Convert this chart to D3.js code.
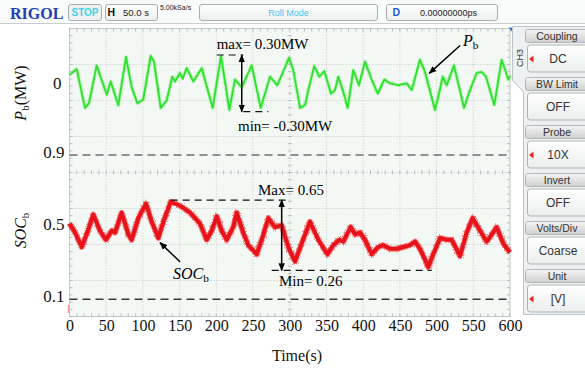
<!DOCTYPE html>
<html>
<head>
<meta charset="utf-8">
<script src="https://cdn.jsdelivr.net/npm/d3@7"></script>
<style>
  html, body { margin: 0; padding: 0; background: #ffffff; }
  svg { display: block; }
</style>
</head>
<body>
<svg id="chart" width="585" height="371"></svg>
<script>
// ---- Time axis (s) ----
const timeTicks = [0, 50, 100, 150, 200, 250, 300, 350, 400, 450, 500, 550, 600];

// ---- Battery power Pb (MW) ----
const pbTime = [0, 9.8, 21.1, 26.6, 37.0, 50.7, 56.1, 66.5, 77.0, 84.7, 92.4, 100.5, 110.6, 115.1, 124.2,
  132.4, 140.0, 143.7, 150.5, 154.2, 159.6, 168.6, 180.1, 195.1, 206.4, 217.7, 225.4, 234.6, 248.2, 260.4,
  273.1, 283.0, 299.0, 304.8, 314.0, 320.8, 325.3, 333.4, 340.3, 347.1, 356.2, 361.6, 366.1, 372.9, 378.9,
  386.6, 394.3, 402.5, 411.6, 419.8, 428.8, 436.5, 447.9, 459.3, 466.1, 477.4, 484.2, 497.8, 502.3, 508.3,
  513.8, 523.7, 537.4, 543.2, 554.6, 561.5, 567.3, 578.6, 588.7, 597.7, 600];
const pbValue = [0.09, 0.15, -0.26, -0.21, 0.19, -0.12, 0.02, -0.23, 0.28, -0.04, -0.21, -0.17, 0.29, 0.23, -0.26,
  -0.18, 0.07, 0.02, 0.11, 0.05, 0.16, 0.02, 0.16, -0.26, 0.29, -0.28, 0.04, -0.04, 0.19, -0.26,
  0.07, -0.02, 0.27, 0.14, -0.26, -0.23, -0.07, 0.18, 0.07, 0.13, -0.11, -0.07, 0.07, -0.09, -0.26,
  0.14, -0.02, 0.23, 0.04, -0.11, 0.04, 0.00, -0.02, 0.00, -0.07, 0.25, 0.12, -0.28, -0.14, 0.07,
  -0.02, 0.19, -0.26, -0.12, 0.11, 0.12, 0.07, -0.23, 0.25, 0.04, 0.08];

// ---- Battery state of charge SOCb ----
const socTime = [0, 7.5, 16.6, 24.2, 32.4, 41.5, 49.7, 57.5, 62.0, 71.1, 80.1, 84.7, 93.7, 104.2, 112.0,
  121.0, 128.7, 137.8, 150.5, 164.1, 177.8, 186.9, 193.7, 200.5, 207.3, 214.1, 223.1, 227.7, 236.7, 243.5,
  255.0, 261.8, 270.8, 279.9, 289.0, 298.0, 307.2, 316.3, 327.6, 338.9, 351.2, 359.3, 367.5, 372.9, 383.0,
  388.9, 395.7, 402.5, 411.6, 420.6, 427.4, 436.5, 445.7, 454.7, 463.8, 470.6, 477.4, 488.7, 495.5, 504.7,
  513.8, 520.6, 531.9, 541.0, 549.2, 559.2, 568.3, 581.9, 590.9, 597.7, 600];
const socValue = [0.52, 0.47, 0.39, 0.47, 0.57, 0.48, 0.43, 0.48, 0.47, 0.58, 0.46, 0.43, 0.55, 0.63, 0.53,
  0.44, 0.54, 0.64, 0.62, 0.58, 0.52, 0.43, 0.48, 0.56, 0.48, 0.43, 0.50, 0.58, 0.47, 0.40,
  0.35, 0.43, 0.55, 0.50, 0.51, 0.39, 0.31, 0.41, 0.53, 0.43, 0.35, 0.40, 0.43, 0.42, 0.50,
  0.46, 0.47, 0.43, 0.35, 0.39, 0.40, 0.38, 0.38, 0.39, 0.40, 0.42, 0.38, 0.28, 0.35, 0.44,
  0.43, 0.43, 0.34, 0.47, 0.55, 0.48, 0.42, 0.50, 0.41, 0.37, 0.36];

// ---- Axis tick values and reference levels ----
const pbTicks = [0];
const socTicks = [0.9, 0.5, 0.1];
const socLimits = [0.9, 0.1];
const pbExtremes = [0.30, -0.30];
const socExtremes = [0.65, 0.26];

// ---- Channel menu ----
const menuLabels = ["Coupling", "BW Limit", "Probe", "Invert", "Volts/Div", "Unit"];
const menuValues = ["DC", "OFF", "10X", "OFF", "Coarse", "[V]"];
const menuActive = [true, false, true, false, false, true];

const svg = d3.select("#chart");
const SERIF = "'Liberation Serif', 'Times New Roman', serif";
const SANS = "'Liberation Sans', Arial, sans-serif";

// ---- Scales ----
const x = d3.scaleLinear().domain([0, 600]).range([69.5, 510]);
const div = d3.scaleLinear().domain([0, 8]).range([316.5, 28.5]);      // screen divisions
const yP = d3.scaleLinear().domain([-0.3, 0.3]).range([111.7, 55]);    // MW
const yS = d3.scaleLinear().domain([0.1, 0.9]).range([299.3, 155]);    // SOC

// ---- defs: arrowheads, gradients, trace texture ----
const defs = svg.append("defs");
defs.append("marker").attr("id", "arrowHead")
  .attr("viewBox", "0 0 10 10").attr("refX", 9).attr("refY", 5)
  .attr("markerUnits", "userSpaceOnUse").attr("markerWidth", 8).attr("markerHeight", 8)
  .attr("orient", "auto-start-reverse")
  .append("path").attr("d", "M0,1 L10,5 L0,9 z").attr("fill", "#000");

const hdrGrad = defs.append("linearGradient").attr("id", "hdrGrad").attr("x1", 0).attr("y1", 0).attr("x2", 0).attr("y2", 1);
hdrGrad.append("stop").attr("offset", "0%").attr("stop-color", "#f4f4f4");
hdrGrad.append("stop").attr("offset", "100%").attr("stop-color", "#cfcfcf");

const boxGrad = defs.append("linearGradient").attr("id", "boxGrad").attr("x1", 0).attr("y1", 0).attr("x2", 0).attr("y2", 1);
boxGrad.append("stop").attr("offset", "0%").attr("stop-color", "#ffffff");
boxGrad.append("stop").attr("offset", "100%").attr("stop-color", "#eceeee");

function jitter(id, freq, scale) {
  const f = defs.append("filter").attr("id", id)
    .attr("x", "-2%").attr("y", "-20%").attr("width", "104%").attr("height", "140%");
  f.append("feTurbulence").attr("type", "fractalNoise").attr("baseFrequency", freq)
    .attr("numOctaves", 1).attr("seed", 7).attr("result", "n");
  f.append("feDisplacementMap").attr("in", "SourceGraphic").attr("in2", "n")
    .attr("scale", scale).attr("xChannelSelector", "R").attr("yChannelSelector", "G");
}
jitter("fuzzG", "0.9 0.9", 3);
jitter("fuzzR", "0.9 0.9", 4);

// ---- Top status bar ----
const bar = svg.append("g");
bar.append("rect").attr("x", 0).attr("y", 0).attr("width", 585).attr("height", 23).attr("fill", "#f9fafa");
bar.append("line").attr("x1", 0).attr("x2", 585).attr("y1", 23.5).attr("y2", 23.5).attr("stroke", "#c9cdd0");
bar.append("text").attr("x", 10).attr("y", 18.5).text("RIGOL")
  .attr("font-family", SERIF).attr("font-weight", "bold").attr("font-size", 16).attr("fill", "#1d3fb5");

function statusBox(x0, w, fill) {
  bar.append("rect").attr("x", x0).attr("y", 4.5).attr("width", w).attr("height", 16).attr("rx", 2.5)
    .attr("fill", fill).attr("stroke", "#a9adb0");
}
statusBox(68.5, 33, "#eef1f1");
bar.append("text").attr("x", 85).attr("y", 16.3).attr("text-anchor", "middle").text("STOP")
  .attr("font-family", SANS).attr("font-weight", "bold").attr("font-size", 10).attr("fill", "#3fd3e6");
statusBox(105.5, 52, "url(#boxGrad)");
bar.append("text").attr("x", 107.5).attr("y", 16.3).text("H")
  .attr("font-family", SANS).attr("font-weight", "bold").attr("font-size", 10.5).attr("fill", "#111");
bar.append("text").attr("x", 136).attr("y", 16.3).attr("text-anchor", "middle").text("50.0 s")
  .attr("font-family", SANS).attr("font-size", 9.5).attr("fill", "#222");
bar.append("text").attr("x", 160).attr("y", 10).text("5.00kSa/s")
  .attr("font-family", SANS).attr("font-size", 7).attr("fill", "#222");
statusBox(199.5, 178, "url(#boxGrad)");
bar.append("text").attr("x", 288.5).attr("y", 15.8).attr("text-anchor", "middle").text("Roll Mode")
  .attr("font-family", SANS).attr("font-size", 9).attr("fill", "#3fc8f2");
statusBox(386.5, 111, "url(#boxGrad)");
bar.append("text").attr("x", 392.5).attr("y", 16.3).text("D")
  .attr("font-family", SANS).attr("font-weight", "bold").attr("font-size", 10.5).attr("fill", "#1f57d6");
bar.append("text").attr("x", 448.5).attr("y", 16.3).attr("text-anchor", "middle").text("0.00000000ps")
  .attr("font-family", SANS).attr("font-size", 9).attr("fill", "#222");

// ---- Scope screen ----
const scr = svg.append("g");
scr.append("rect").attr("x", x(0)).attr("y", div(8)).attr("width", x(600) - x(0)).attr("height", div(0) - div(8))
  .attr("fill", "#f4f8f5").attr("stroke", "#c3c8c8").attr("stroke-width", 1);

const gridStyle = sel => sel.attr("stroke", "#c4c8c8").attr("stroke-width", 1).attr("stroke-dasharray", "1,2");
timeTicks.slice(1, -1).forEach(t => {
  scr.append("line").attr("x1", x(t)).attr("x2", x(t)).attr("y1", div(8)).attr("y2", div(0)).call(gridStyle);
});
d3.range(1, 8).forEach(d => {
  scr.append("line").attr("x1", x(0)).attr("x2", x(600)).attr("y1", div(d)).attr("y2", div(d)).call(gridStyle);
});

// minor ticks on the border and on the centre cross
const tickCol = "#b9bebe";
d3.range(0, 600.1, 10).forEach(t => {
  scr.append("line").attr("x1", x(t)).attr("x2", x(t)).attr("y1", div(8)).attr("y2", div(8) + 3).attr("stroke", tickCol);
  scr.append("line").attr("x1", x(t)).attr("x2", x(t)).attr("y1", div(0) - 3).attr("y2", div(0)).attr("stroke", tickCol);
  scr.append("line").attr("x1", x(t)).attr("x2", x(t)).attr("y1", div(4) - 2).attr("y2", div(4) + 2).attr("stroke", tickCol);
});
d3.range(0, 8.01, 0.2).forEach(d => {
  scr.append("line").attr("x1", x(0)).attr("x2", x(0) + 3).attr("y1", div(d)).attr("y2", div(d)).attr("stroke", tickCol);
  scr.append("line").attr("x1", x(600) - 3).attr("x2", x(600)).attr("y1", div(d)).attr("y2", div(d)).attr("stroke", tickCol);
  scr.append("line").attr("x1", x(300) - 2).attr("x2", x(300) + 2).attr("y1", div(d)).attr("y2", div(d)).attr("stroke", tickCol);
});

// channel marker and trigger marker
scr.append("line").attr("x1", x(0) - 1).attr("x2", x(0) - 1).attr("y1", 305).attr("y2", 313)
  .attr("stroke", "#f39a9a").attr("stroke-width", 1.5);
scr.append("path").attr("d", `M${x(600) - 1},${div(8) - 1} l5,0 l-2.5,4 z`).attr("fill", "#2a72d8");

// ---- SOC limit lines ----
socLimits.forEach((v, i) => {
  scr.append("line").attr("x1", x(0)).attr("x2", x(600)).attr("y1", yS(v)).attr("y2", yS(v))
    .attr("stroke", i === 0 ? "#6e6e6e" : "#3a3a3a").attr("stroke-width", 1.5).attr("stroke-dasharray", "8,5");
});

// ---- Traces ----
const pbData = d3.zip(pbTime, pbValue);
const socData = d3.zip(socTime, socValue);
const pbLine = d3.line().x(d => x(d[0])).y(d => yP(d[1]));
const socLine = d3.line().x(d => x(d[0])).y(d => yS(d[1]));

scr.append("path").datum(pbData).attr("d", pbLine).attr("fill", "none")
  .attr("stroke", "#7cf07c").attr("stroke-width", 3.6).attr("stroke-opacity", 0.55)
  .attr("stroke-linejoin", "round").attr("filter", "url(#fuzzG)");
scr.append("path").datum(pbData).attr("d", pbLine).attr("fill", "none")
  .attr("stroke", "#2fe02f").attr("stroke-width", 1.8).attr("stroke-linejoin", "round");

scr.append("path").datum(socData).attr("d", socLine).attr("fill", "none")
  .attr("stroke", "#f03030").attr("stroke-width", 6).attr("stroke-opacity", 0.6)
  .attr("stroke-linejoin", "round").attr("filter", "url(#fuzzR)");
scr.append("path").datum(socData).attr("d", socLine).attr("fill", "none")
  .attr("stroke", "#e8121a").attr("stroke-width", 4).attr("stroke-linejoin", "round");

// ---- Extreme-value annotations ----
const ann = svg.append("g");
const dashed = sel => sel.attr("stroke", "#111").attr("stroke-width", 1.2).attr("stroke-dasharray", "7,5");
function hline(t0, t1, y) {
  ann.append("line").attr("x1", x(t0)).attr("x2", x(t1)).attr("y1", y).attr("y2", y).call(dashed);
}
function vArrow(t, y0, y1) {
  ann.append("line").attr("x1", x(t)).attr("x2", x(t)).attr("y1", y0).attr("y2", y1)
    .attr("stroke", "#000").attr("stroke-width", 1.5)
    .attr("marker-start", "url(#arrowHead)").attr("marker-end", "url(#arrowHead)");
}
function label(xp, yp, parts, size) {
  const t = ann.append("text").attr("x", xp).attr("y", yp).attr("dy", "0.35em")
    .attr("font-family", SERIF).attr("font-size", size).attr("fill", "#000");
  parts.forEach(p => {
    const s = t.append("tspan").text(p.text);
    if (p.italic) s.attr("font-style", "italic");
    if (p.sub) s.attr("font-size", size * 0.7).attr("dy", p.sub);
  });
  return t;
}

// Pb extremes
hline(200.5, 236.7, yP(pbExtremes[0]));
hline(236.7, 270.8, yP(pbExtremes[1]));
vArrow(234.6, yP(pbExtremes[0]), yP(pbExtremes[1]));
label(x(200.5), yP(pbExtremes[0]) - 11, [{ text: `max= ${pbExtremes[0].toFixed(2)}MW` }], 15);
label(x(229.5), yP(pbExtremes[1]) + 14.5, [{ text: `min= ${pbExtremes[1].toFixed(2)}MW` }], 15);

// SOC extremes
hline(137.8, 300.3, yS(socExtremes[0]));
hline(275.4, 493.3, yS(socExtremes[1]));
vArrow(289, yS(socExtremes[0]), yS(socExtremes[1]));
label(x(256.8), yS(socExtremes[0]) - 10.5, [{ text: `Max= ${socExtremes[0].toFixed(2)}` }], 15);
label(x(285.3), yS(socExtremes[1]) + 10, [{ text: `Min= ${socExtremes[1].toFixed(2)}` }], 15);

// trace call-outs
ann.append("line").attr("x1", x(532)).attr("y1", yP(0.40)).attr("x2", x(490)).attr("y2", yP(0.106))
  .attr("stroke", "#000").attr("stroke-width", 1.5).attr("marker-end", "url(#arrowHead)");
label(x(536), yP(0.458), [{ text: "P", italic: true }, { text: "b", sub: 3 }], 16);

ann.append("line").attr("x1", x(150.5)).attr("y1", yS(0.308)).attr("x2", x(123.3)).attr("y2", yS(0.414))
  .attr("stroke", "#000").attr("stroke-width", 1.5).attr("marker-end", "url(#arrowHead)");
label(x(141), yS(0.245), [{ text: "SOC", italic: true }, { text: "b", sub: 3 }], 16);

// ---- Axes ----
const axisText = sel => {
  sel.select(".domain").remove();
  sel.selectAll(".tick line").remove();
  sel.selectAll("text").attr("font-family", SERIF).attr("fill", "#111");
};
svg.append("g").attr("transform", `translate(0,${div(0)})`)
  .call(d3.axisBottom(x).tickValues(timeTicks).tickSize(0).tickPadding(3).tickFormat(d3.format("d")))
  .call(axisText).selectAll("text").attr("font-size", 16);

svg.append("g").attr("transform", `translate(${x(0) - 5},0)`)
  .call(d3.axisLeft(yP).tickValues(pbTicks).tickSize(0).tickPadding(3).tickFormat(d3.format("d")))
  .call(axisText).selectAll("text").attr("font-size", 17);
svg.append("g").attr("transform", `translate(${x(0) - 3},-3)`)
  .call(d3.axisLeft(yS).tickValues(socTicks).tickSize(0).tickPadding(2).tickFormat(d3.format(".1f")))
  .call(axisText).selectAll("text").attr("font-size", 17);

// axis titles
function vTitle(cx, cy, parts) {
  const t = svg.append("text").attr("transform", `translate(${cx},${cy}) rotate(-90)`)
    .attr("text-anchor", "middle").attr("dy", "0.35em")
    .attr("font-family", SERIF).attr("font-size", 16).attr("fill", "#111");
  parts.forEach(p => {
    const s = t.append("tspan").text(p.text);
    if (p.italic) s.attr("font-style", "italic");
    if (p.size) s.attr("font-size", p.size);
    if (p.dy) s.attr("dy", p.dy);
  });
}
vTitle(20, 93, [{ text: "P", italic: true }, { text: "b", size: 11, dy: 3 }, { text: "(MW)", dy: -3 }]);
vTitle(20, 230.5, [{ text: "SOC", italic: true }, { text: "b", size: 11, dy: 3 }]);

svg.append("text").attr("x", 297).attr("y", 361).attr("text-anchor", "middle").text("Time(s)")
  .attr("font-family", SERIF).attr("font-size", 16).attr("fill", "#111");

// ---- Channel menu panel ----
const menu = svg.append("g");
menu.append("path").attr("d", "M512.5,26.5 V80 L523.5,92 V314.5 H590 V26.5 Z")
  .attr("fill", "#eef1f2").attr("stroke", "#b9c3c9");
menu.append("text").attr("transform", "translate(520,58) rotate(-90)").attr("text-anchor", "middle")
  .attr("dy", "0.35em").text("CH3").attr("font-family", SANS).attr("font-size", 9).attr("fill", "#333");

const pitch = 48;
menuLabels.forEach((lab, i) => {
  const y0 = 29.5 + i * pitch;
  menu.append("rect").attr("x", 525.5).attr("y", y0).attr("width", 70).attr("height", 13).attr("rx", 2)
    .attr("fill", "url(#hdrGrad)").attr("stroke", "#b4b8ba");
  menu.append("text").attr("x", 557).attr("y", y0 + 6.8).attr("dy", "0.35em").attr("text-anchor", "middle")
    .text(lab).attr("font-family", SANS).attr("font-size", 10.5).attr("fill", "#333");
  menu.append("rect").attr("x", 527.5).attr("y", y0 + 15.5).attr("width", 68).attr("height", 27).attr("rx", 3)
    .attr("fill", "url(#boxGrad)").attr("stroke", "#aeb3b5");
  menu.append("text").attr("x", 558).attr("y", y0 + 29.5).attr("dy", "0.35em").attr("text-anchor", "middle")
    .text(menuValues[i]).attr("font-family", SANS).attr("font-size", 12).attr("fill", "#333");
  if (menuActive[i]) {
    menu.append("path").attr("d", `M529,${y0 + 29.5} l4.5,-3.5 v7 z`).attr("fill", "#e8261e");
  }
});
</script>
</body>
</html>
